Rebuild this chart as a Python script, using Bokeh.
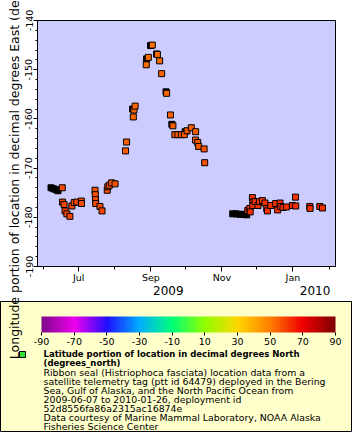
import numpy as np
import pandas as pd
from bokeh.plotting import figure
from bokeh.models import (Range1d, FixedTicker, DatetimeAxis, DatetimeTickFormatter,
                          ColorBar, LinearColorMapper, Title,
                          ColumnDataSource, PrintfTickFormatter)
from bokeh.transform import transform
from bokeh.embed import file_html
from bokeh.resources import INLINE

FONT = "DejaVu Sans"

# ---- data: satellite telemetry locations (time, longitude, latitude) ----
times = [
    "2009-06-16 21:00", "2009-06-17 02:00", "2009-06-18 10:00", "2009-06-19 05:00",
    "2009-06-20 19:00", "2009-06-23 10:00", "2009-06-25 02:00", "2009-06-27 02:00",
    "2009-06-29 10:00", "2009-07-03 05:00", "2009-07-03 10:00",
    "2009-07-15 00:00", "2009-07-15 05:00", "2009-07-15 10:00", "2009-07-15 14:00",
    "2009-07-19 05:00", "2009-07-21 00:00", "2009-07-25 12:00", "2009-07-26 00:00",
    "2009-07-27 05:00", "2009-07-29 05:00", "2009-08-01 05:00",
    "2009-08-10 05:00", "2009-08-11 02:00", "2009-08-16 22:00", "2009-08-17 10:00",
    "2009-08-18 10:00",
    "2009-08-28 00:00", "2009-08-29 19:00", "2009-09-02 05:00", "2009-09-06 14:00",
    "2009-09-08 12:00", "2009-09-10 05:00", "2009-09-14 12:00", "2009-09-17 19:00",
    "2009-09-19 22:00", "2009-09-21 14:00", "2009-09-24 05:00", "2009-09-27 02:00",
    "2009-09-29 17:00", "2009-10-02 02:00", "2009-10-05 17:00", "2009-10-09 10:00",
    "2009-10-09 07:00", "2009-10-11 05:00", "2009-10-12 00:00", "2009-10-16 17:00",
    "2009-10-17 05:00",
    "2009-11-23 05:00", "2009-11-24 22:00", "2009-11-25 07:00", "2009-11-27 05:00",
    "2009-11-27 17:00", "2009-11-27 12:00", "2009-11-29 10:00", "2009-12-02 00:00",
    "2009-12-03 05:00", "2009-12-05 19:00", "2009-12-08 00:00", "2009-12-09 12:00",
    "2009-12-10 02:00", "2009-12-12 22:00", "2009-12-17 05:00", "2009-12-18 22:00",
    "2009-12-20 22:00", "2009-12-21 12:00", "2009-12-23 12:00", "2009-12-26 10:00",
    "2009-12-31 14:00", "2010-01-03 05:00", "2010-01-03 10:00", "2010-01-15 12:00",
    "2010-01-15 17:00", "2010-01-24 02:00", "2010-01-26 10:00",
]
lons = [
    -174.0, -176.9, -177.4, -178.7,
    -179.3, -179.8, -177.7, -177.0,
    -176.9, -176.7, -177.2,
    -174.5, -175.4, -176.4, -177.2,
    -177.8, -178.7, -174.5, -173.8,
    -173.5, -173.0, -173.2,
    -166.5, -164.7, -159.6, -158.2,
    -157.4,
    -149.0, -147.5, -145.0, -146.9,
    -148.2, -150.8, -154.8, -159.2,
    -161.4, -163.2, -163.2, -163.2,
    -163.2, -162.4, -161.8, -162.6,
    -164.3, -164.8, -165.6, -166.1,
    -168.9,
    -178.6, -178.2, -178.9, -176.0,
    -176.9, -177.6, -176.8, -177.6,
    -176.8, -176.6, -177.1, -178.2,
    -178.7, -177.6, -177.2, -178.5,
    -177.1, -177.8, -178.0, -177.9,
    -177.6, -175.9, -177.7, -177.8,
    -178.2, -177.8, -178.1,
]
lats = [
    58.0, 58.5, 59.0, 59.0,
    59.0, 59.0, 58.5, 58.5,
    58.0, 58.0, 58.0,
    57.5, 57.5, 58.0, 58.0,
    58.5, 58.5, 57.5, 57.0,
    57.0, 56.5, 56.5,
    55.0, 54.5, 54.0, 54.0,
    54.0,
    53.0, 53.0, 52.5, 53.0,
    53.0, 53.5, 54.0, 54.5,
    55.0, 55.5, 55.5, 56.0,
    56.0, 55.5, 55.0, 55.5,
    56.0, 56.0, 56.0, 56.5,
    57.0,
    62.0, 62.0, 62.5, 61.5,
    62.0, 62.0, 61.5, 62.0,
    61.5, 61.5, 62.0, 62.5,
    62.5, 62.0, 62.0, 62.5,
    62.0, 62.0, 62.5, 62.0,
    62.0, 61.5, 62.0, 62.0,
    62.5, 62.0, 62.5,
]

# locations drawn as solid dark markers
dark_times = [
    "2009-06-07 05:00", "2009-06-09 07:00", "2009-06-11 12:00", "2009-06-13 05:00",
    "2009-08-16 07:00", "2009-08-28 07:00", "2009-08-31 17:00", "2009-09-05 22:00",
    "2009-09-14 00:00", "2009-09-19 00:00", "2009-09-30 10:00",
    "2009-11-10 07:00", "2009-11-13 07:00", "2009-11-16 07:00", "2009-11-19 07:00",
    "2009-11-22 07:00",
]
dark_lons = [
    -174.0, -174.2, -174.4, -174.6,
    -158.0, -147.8, -145.1, -146.8,
    -154.5, -161.1, -162.6,
    -179.3, -179.3, -179.4, -179.4,
    -179.5,
]

# axes
x_start, x_end = "2009-05-26 14:00", "2010-02-06 14:00"
y_start, y_end = -190, -140
y_major = list(range(-190, -139, 10))
y_minor = list(range(-190, -139, 2))
month_ticks = ["2009-06-01", "2009-07-01", "2009-08-01", "2009-09-01", "2009-10-01",
               "2009-11-01", "2009-12-01", "2010-01-01", "2010-02-01"]
labeled_months = ["2009-07-01", "2009-09-01", "2009-11-01", "2010-01-01"]
year_label_at = ["2009-09-16", "2010-01-20"]

# colour scale
cbar_low, cbar_high = -90, 90
cbar_ticks = list(range(-90, 91, 20))
stop_vals = [-90, -70, -50, -30, -10, 10, 30, 50, 70, 90]
stop_cols = ["#800a8c", "#f000f0", "#2010ff", "#00b0ff", "#00ff78",
             "#90ff00", "#ffd800", "#ff8000", "#f00000", "#800000"]

y_label = "Longitude portion of location in decimal degrees East (degrees_east)"
legend_title = ["Latitude portion of location in decimal degrees North",
                "(degrees_north)"]
legend_lines = ["Ribbon seal (Histriophoca fasciata) location data from a",
                "satellite telemetry tag (ptt id 64479) deployed in the Bering",
                "Sea, Gulf of Alaska, and the North Pacific Ocean from",
                "2009-06-07 to 2010-01-26, deployment id",
                "52d8556fa86a2315ac16874e",
                "Data courtesy of Marine Mammal Laboratory, NOAA Alaska",
                "Fisheries Science Center"]


def ms(s):
    return pd.Timestamp(s).value / 1e6


def hex2rgb(h):
    return [int(h[i:i + 2], 16) for i in (1, 3, 5)]


grid = np.linspace(cbar_low, cbar_high, 256)
rgb = np.array([hex2rgb(c) for c in stop_cols])
chan = [np.interp(grid, stop_vals, rgb[:, k]) for k in range(3)]
palette = ["#%02x%02x%02x" % (int(r), int(g), int(b)) for r, g, b in zip(*chan)]
mapper = LinearColorMapper(palette=palette, low=cbar_low, high=cbar_high)

W, H = 352, 432
FL, FR, FT, FB = 37, 335, 20, 266   # frame edges in canvas pixels
p = figure(width=W, height=H, x_axis_type="datetime",
           x_range=Range1d(pd.Timestamp(x_start), pd.Timestamp(x_end)),
           y_range=Range1d(y_start, y_end),
           output_backend="svg", toolbar_location=None,
           min_border_left=FL, min_border_right=W - FR, min_border_top=FT,
           min_border_bottom=H - FB,
           background_fill_color="#ccccff", border_fill_color="white",
           outline_line_color="black")
p.grid.visible = False

# x axis (months)
xa = p.xaxis[0]
xa.ticker = FixedTicker(ticks=[ms(d) for d in labeled_months],
                        minor_ticks=[ms(d) for d in month_ticks])
xa.formatter = DatetimeTickFormatter(months="%b", days="%b")
xa.major_tick_in = 0
xa.major_tick_out = 5
xa.minor_tick_in = 0
xa.minor_tick_out = 3
xa.major_label_standoff = 0
xa.major_label_text_font = FONT
xa.major_label_text_font_size = "9.5px"
xa.major_label_text_color = "black"

# x axis (years)
yr = DatetimeAxis(ticker=FixedTicker(ticks=[ms(d) for d in year_label_at]),
                  formatter=DatetimeTickFormatter(months="%Y", days="%Y", years="%Y"),
                  axis_line_color=None, major_tick_line_color=None,
                  minor_tick_line_color=None, major_tick_out=0, major_tick_in=0,
                  major_label_standoff=0, major_label_text_font=FONT,
                  major_label_text_font_size="12px", major_label_text_color="black")
p.add_layout(yr, "below")

# y axis (drawn last so its long label lies on top of the legend panel)
ya = p.yaxis[0]
ya.level = "overlay"
ya.ticker = FixedTicker(ticks=y_major, minor_ticks=y_minor)
ya.formatter = PrintfTickFormatter(format="%d")
ya.major_label_orientation = "vertical"
ya.major_tick_in = 0
ya.major_tick_out = 4
ya.minor_tick_in = 0
ya.minor_tick_out = 2
ya.major_label_standoff = 1
ya.major_label_text_font = FONT
ya.major_label_text_font_size = "9.5px"
ya.major_label_text_color = "black"
ya.axis_label = y_label
ya.axis_label_text_font = FONT
ya.axis_label_text_font_size = "12.5px"
ya.axis_label_text_font_style = "normal"
ya.axis_label_text_color = "black"
ya.axis_label_standoff = 1

# data
dark_src = ColumnDataSource(dict(t=pd.to_datetime(dark_times), lon=dark_lons))
p.scatter("t", "lon", source=dark_src, marker="square", size=6,
          fill_color="black", line_color="black", line_width=1)
src = ColumnDataSource(dict(t=pd.to_datetime(times), lon=lons, lat=lats))
p.scatter("t", "lon", source=src, marker="square", size=6,
          fill_color=transform("lat", mapper), line_color="black", line_width=1)


def plain_box(color, left, top, right, bottom, level="overlay"):
    """A solid rectangle with a black outline, positioned in canvas pixels."""
    m = LinearColorMapper(palette=[color], low=0, high=1)
    return ColorBar(color_mapper=m, orientation="horizontal",
                    location=(left - FL, -(bottom - FB)),
                    width=int(right - left), height=int(bottom - top),
                    padding=0, margin=0,
                    ticker=FixedTicker(ticks=[]), major_tick_line_color=None,
                    minor_tick_line_color=None, major_tick_out=0, major_tick_in=0,
                    label_standoff=0, major_label_text_font_size="1px",
                    bar_line_color="black", bar_line_width=1,
                    background_fill_color=None, border_line_color=None, level=level)


# legend panel background
p.add_layout(plain_box("#ffffcc", 0, 301, 351, 431, level="annotation"))

# colour bar
cb = ColorBar(color_mapper=mapper, orientation="horizontal", location=(4, -81),
              width=294, height=16, padding=0, margin=0,
              ticker=FixedTicker(ticks=cbar_ticks),
              formatter=PrintfTickFormatter(format="%d"),
              major_tick_in=0, major_tick_out=3, major_tick_line_color="black",
              bar_line_color=None, background_fill_color=None,
              border_line_color=None, label_standoff=2,
              major_label_text_font=FONT, major_label_text_font_size="9.5px",
              major_label_text_color="black", level="overlay")
p.add_layout(cb)

# legend marker
p.add_layout(plain_box("#33dd33", 19, 351, 25, 357))

# legend text, stacked below the axes
p.add_layout(Title(text=" ", text_font_size="10px", standoff=39), "below")
for i, txt in enumerate(legend_title + legend_lines):
    bold = i < len(legend_title)
    p.add_layout(Title(text=txt, text_font=FONT,
                       text_font_size="8.5px" if bold else "9.4px",
                       text_font_style="bold" if bold else "normal",
                       text_color="black", align="left", offset=6,
                       vertical_align="middle", level="overlay",
                       standoff=-2.9 if bold else -4.0), "below")

open("out.html", "w").write(file_html(p, INLINE))
